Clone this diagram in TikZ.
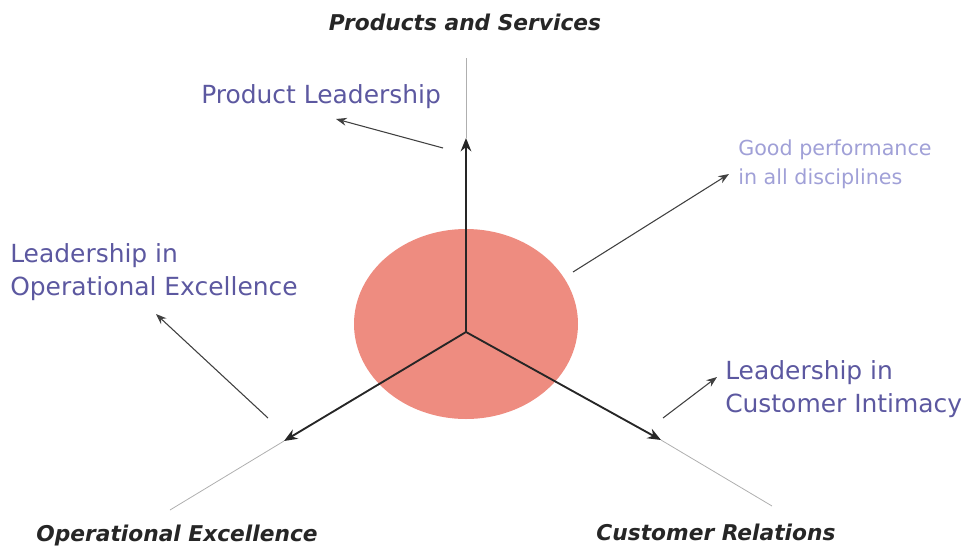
\documentclass[tikz,border=0pt]{standalone}
\usepackage{fontspec}
\setmainfont{DejaVu Sans}
\usetikzlibrary{arrows.meta}
\definecolor{disc}{RGB}{238,140,128}
\definecolor{lbl}{RGB}{92,88,160}
\definecolor{lbllight}{RGB}{160,160,215}
\definecolor{axisgray}{RGB}{175,175,175}
\tikzset{
  axisarrow/.style={draw=black!85, line width=1.4pt, -{Stealth[length=10pt,width=8pt]}},
  axisext/.style={draw=axisgray, line width=0.6pt},
  pointer/.style={draw=black!75, line width=0.8pt, -{Stealth[length=8pt,width=6pt]}},
  title/.style={font=\fontsize{16.3}{20}\selectfont\bfseries\itshape, text=black!85, inner sep=0pt},
  label/.style={font=\fontsize{18.7}{24.5}\selectfont, text=lbl, align=left, inner sep=0pt},
  smalllabel/.style={font=\fontsize{15.5}{22}\selectfont, text=lbllight, align=left, inner sep=0pt},
}
\begin{document}
\begin{tikzpicture}[x=0.75pt,y=-0.75pt]
\useasboundingbox (0,0) rectangle (961,547);
\fill[disc] (466,324) ellipse [x radius=112, y radius=95];
\coordinate (o) at (466,332);
% axes
\coordinate (uptip) at (466,138);
\coordinate (upend) at (466,58);
\coordinate (lltip) at (284,441);
\coordinate (llend) at (170,510);
\coordinate (lrtip) at (661,440);
\coordinate (lrend) at (772,506);
\draw[axisext] (uptip) -- (upend);
\draw[axisext] (lltip) -- (llend);
\draw[axisext] (lrtip) -- (lrend);
\draw[axisarrow] (o) -- (uptip);
\draw[axisarrow] (o) -- (lltip);
\draw[axisarrow] (o) -- (lrtip);
% titles
\node[title] (ps) at (465,22) {Products and Services};
\node[title] (oe) at (177,535) {Operational Excellence};
\node[title] (cr) at (716,532) {Customer Relations};
% labels
\node[label, anchor=west] (pl) at (201,97) {Product Leadership};
\node[smalllabel, anchor=west] (gp) at (738,164) {Good performance\\in all disciplines};
\node[label, anchor=west] (loe) at (10,272) {Leadership in\\Operational Excellence};
\node[label, anchor=west] (lci) at (725,389) {Leadership in\\Customer Intimacy};
% pointer arrows
\coordinate (pls) at (443,148);
\coordinate (ple) at (336,119);
\draw[pointer] (pls) -- (ple);
\coordinate (gps) at (573,272);
\coordinate (gpe) at (729,174);
\draw[pointer] (gps) -- (gpe);
\coordinate (loes) at (268,418);
\coordinate (loee) at (156,314);
\draw[pointer] (loes) -- (loee);
\coordinate (lcis) at (663,418);
\coordinate (lcie) at (717,377);
\draw[pointer] (lcis) -- (lcie);
\end{tikzpicture}
\end{document}
